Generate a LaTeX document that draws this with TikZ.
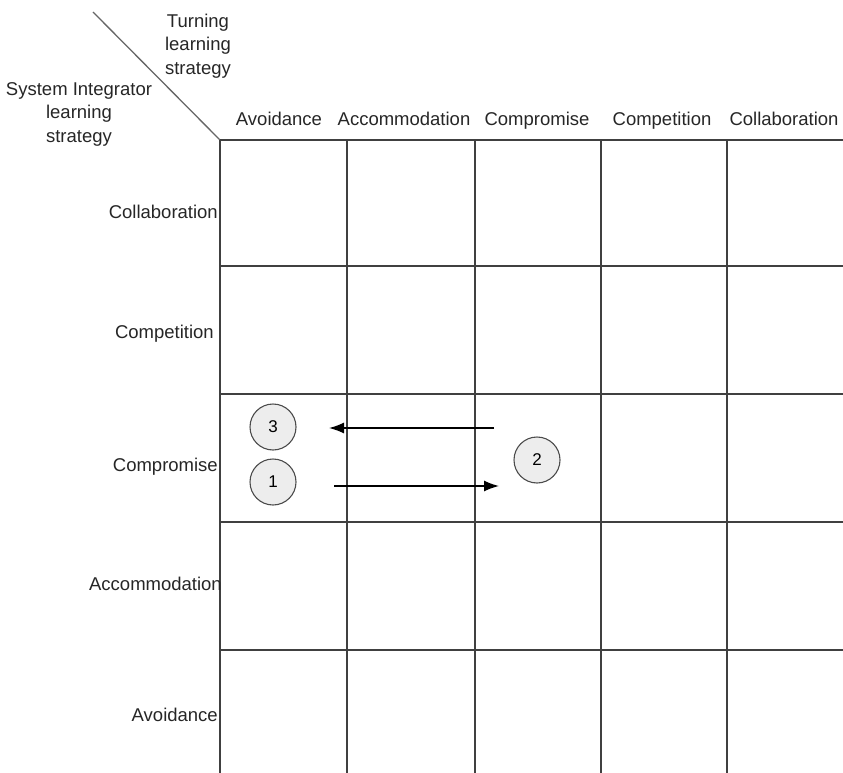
\documentclass[tikz,border=0pt]{standalone}
\usepackage{fontspec}
\setmainfont{Liberation Sans}
\usetikzlibrary{arrows.meta}
\begin{document}
\begin{tikzpicture}[x=1pt,y=-1pt,
  grid/.style={draw=black!75,line width=1.8pt},
  lbl/.style={font=\fontsize{18.5}{23.5}\selectfont,text=black!85,inner sep=0pt},
  num/.style={circle,draw=black!70,line width=1.1pt,fill=black!7,minimum size=46pt,inner sep=0pt,font=\fontsize{17}{18}\selectfont},
  arr/.style={draw=black,line width=1.4pt,-{Latex[length=15pt,width=11pt]}}]
\useasboundingbox (0,0) rectangle (843,773);
% diagonal
\coordinate (d0) at (93,12);
\coordinate (d1) at (220,140);
\draw[black!60,line width=1.3pt] (d0) -- (d1);
% grid
\foreach \x [count=\i] in {220,347,475,601,727} {
  \coordinate (vt\i) at (\x,140);
  \coordinate (vb\i) at (\x,773);
  \draw[grid] (vt\i) -- (vb\i);
}
\foreach \y [count=\i] in {140,266,394,522,650} {
  \coordinate (hl\i) at (220,\y);
  \coordinate (hr\i) at (843,\y);
  \draw[grid] (hl\i) -- (hr\i);
}
% corner labels
\node[lbl,align=center] (turn) at (198,46) {Turning\\learning\\strategy};
\node[lbl,align=center] (sys) at (79,114) {System Integrator\\learning\\strategy};
% column headers
\node[lbl,anchor=base] (c1) at (279,125) {Avoidance};
\node[lbl,anchor=base] (c2) at (404,125) {Accommodation};
\node[lbl,anchor=base] (c3) at (537,125) {Compromise};
\node[lbl,anchor=base] (c4) at (662,125) {Competition};
\node[lbl,anchor=base] (c5) at (784,125) {Collaboration};
% row headers
\node[lbl,anchor=base east] (r1) at (218,218) {Collaboration};
\node[lbl,anchor=base east] (r2) at (214,338) {Competition};
\node[lbl,anchor=base east] (r3) at (218,471) {Compromise};
\node[lbl,anchor=base east] (r4) at (222,590) {Accommodation};
\node[lbl,anchor=base east] (r5) at (218,721) {Avoidance};
% circles
\node[num] (n3) at (273,427) {3};
\node[num] (n1) at (273,482) {1};
\node[num] (n2) at (537,460) {2};
% arrows
\coordinate (a1s) at (494,428);
\coordinate (a1e) at (329,428);
\coordinate (a2s) at (334,486);
\coordinate (a2e) at (499,486);
\draw[arr] (a1s) -- (a1e);
\draw[arr] (a2s) -- (a2e);
\end{tikzpicture}
\end{document}
